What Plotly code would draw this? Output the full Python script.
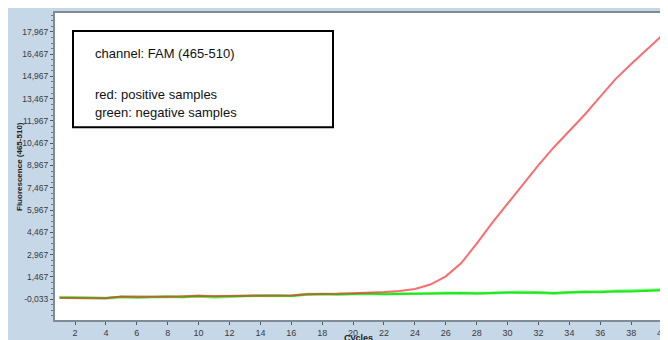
import plotly.graph_objects as go

cycles = list(range(1, 41))

positive = [0.05, 0.03, 0.02, 0.03, 0.15, 0.16, 0.12, 0.12, 0.15, 0.20,
            0.17, 0.18, 0.20, 0.22, 0.20, 0.22, 0.30, 0.30, 0.33, 0.37,
            0.40, 0.45, 0.52, 0.65, 0.95, 1.50, 2.40, 3.70, 5.10, 6.40,
            7.70, 9.00, 10.20, 11.30, 12.40, 13.60, 14.80, 15.80, 16.75, 17.72]

negative_a = [0.10, 0.08, 0.02, 0.02, 0.10, 0.10, 0.10, 0.12, 0.12, 0.18,
              0.10, 0.14, 0.18, 0.22, 0.20, 0.20, 0.30, 0.30, 0.30, 0.32,
              0.32, 0.32, 0.30, 0.32, 0.35, 0.38, 0.36, 0.37, 0.38, 0.40,
              0.45, 0.40, 0.35, 0.42, 0.45, 0.45, 0.48, 0.50, 0.55, 0.60]

negative_b = [0.08, 0.06, 0.01, 0.04, 0.12, 0.08, 0.11, 0.14, 0.10, 0.16,
              0.12, 0.13, 0.16, 0.20, 0.22, 0.18, 0.28, 0.32, 0.28, 0.30,
              0.34, 0.30, 0.32, 0.30, 0.33, 0.36, 0.38, 0.35, 0.40, 0.42,
              0.40, 0.42, 0.38, 0.40, 0.47, 0.43, 0.50, 0.48, 0.52, 0.57]

ytick_vals = [-0.033, 1.467, 2.967, 4.467, 5.967, 7.467, 8.967,
              10.467, 11.967, 13.467, 14.967, 16.467, 17.967]
ytick_text = ["-0,033", "1,467", "2,967", "4,467", "5,967", "7,467", "8,967",
              "10,467", "11,967", "13,467", "14,967", "16,467", "17,967"]
xtick_vals = list(range(2, 41, 2))

# the page has an 8px body margin; the figure starts at (8, 8) in the window
OFF = 8
W, H = 668, 340
L, R, T, B = 47, 11, 3, 28
pw, ph = W - L - R, H - T - B

def px(x):  # window pixel x -> paper
    return (x - OFF - L) / pw

def py(y):  # window pixel y -> paper
    return (H - B - (y - OFF)) / ph

fig = go.Figure()
fig.add_trace(go.Scatter(x=cycles, y=negative_a, mode="lines",
                         line=dict(color="#8cf58c", width=3), showlegend=False))
fig.add_trace(go.Scatter(x=cycles, y=negative_b, mode="lines",
                         line=dict(color="#1ee81e", width=2), showlegend=False))
fig.add_trace(go.Scatter(x=cycles, y=positive, mode="lines",
                         line=dict(color="rgba(245,50,50,0.7)", width=2),
                         showlegend=False))

fig.update_layout(
    width=W, height=H,
    margin=dict(l=L, r=R, t=T, b=B, pad=0),
    paper_bgcolor="#c6d7e8",
    plot_bgcolor="white",
    font=dict(family="Liberation Sans, Arial, sans-serif", size=9, color="#3a3a3a"),
    showlegend=False,
)

fig.update_xaxes(
    range=[0.705, 40.19], tickmode="array", tickvals=xtick_vals,
    ticks="outside", ticklen=3, tickcolor="#555", showgrid=False, zeroline=False,
    showline=True, linecolor="#7f8b96", linewidth=2, mirror=True,
    tickfont=dict(size=9, color="#3a3a3a"),
)
fig.update_yaxes(
    range=[-1.438, 19.238], tickmode="array", tickvals=ytick_vals, ticktext=ytick_text,
    ticks="outside", ticklen=3, tickcolor="#555", showgrid=False, zeroline=False,
    showline=True, linecolor="#7f8b96", linewidth=2, mirror=True,
    tickfont=dict(size=8.5, color="#3a3a3a"),
    minor=dict(ticks="outside", ticklen=2, tickcolor="#777", tickmode="linear",
               tick0=-0.033, dtick=0.375),
)

# legend box
fig.add_shape(type="rect", xref="paper", yref="paper",
              x0=px(73), x1=px(333), y0=py(126), y1=py(29),
              fillcolor="white", line=dict(color="black", width=2))

box_font = dict(family="Liberation Sans, Arial, sans-serif", size=13, color="#111")
for text, yy in [("channel: FAM (465-510)", 52),
                 ("red: positive samples", 93),
                 ("green: negative samples", 111)]:
    fig.add_annotation(text=text, xref="paper", yref="paper", x=px(93), y=py(yy),
                       xanchor="left", yanchor="middle", showarrow=False, font=box_font)

fig.add_annotation(text="<b>Fluorescence (465-510)</b>", xref="paper", yref="paper",
                   x=px(20), y=py(166), textangle=-90, showarrow=False,
                   xanchor="center", yanchor="middle",
                   font=dict(size=8, color="#222"))
fig.add_annotation(text="<b>Cycles</b>", xref="paper", yref="paper",
                   x=px(358), y=py(338), showarrow=False,
                   xanchor="center", yanchor="middle",
                   font=dict(size=9, color="#222"))

fig.write_html("out.html")
